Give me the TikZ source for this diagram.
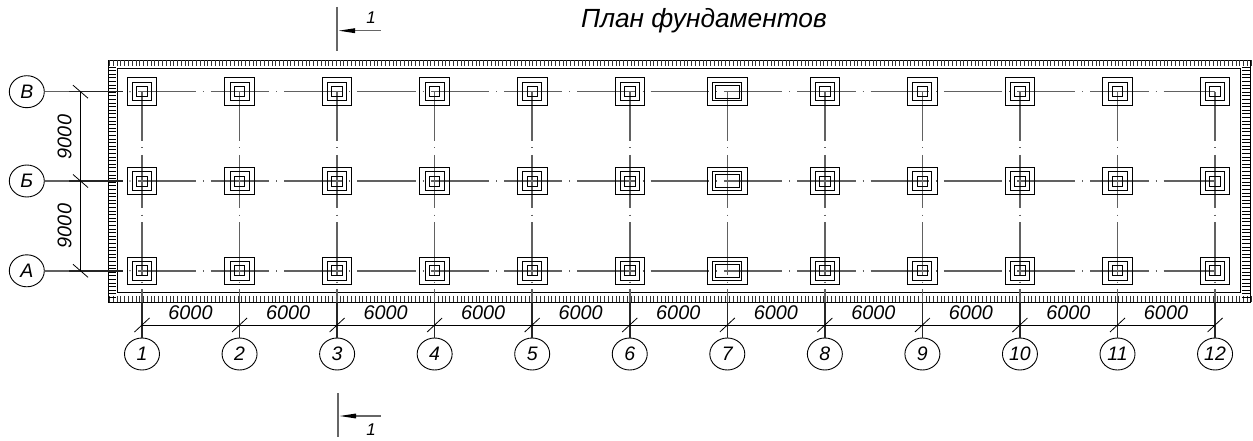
\documentclass[tikz,border=0pt]{standalone}
\usepackage{fontspec}
\setmainfont{Liberation Sans}
\usetikzlibrary{arrows.meta,shapes.geometric,calc}
\tikzset{
  lbl/.style={font=\itshape\fontsize{19.8}{20}\selectfont,inner sep=0pt},
  slbl/.style={font=\itshape\fontsize{17}{17}\selectfont,inner sep=0pt},
  bubble/.style={draw=black,line width=.9pt,ellipse,minimum width=35pt,minimum height=32pt,inner sep=0pt,font=\itshape\fontsize{19.5}{20}\selectfont},
  sq/.style={draw=black,line width=.9pt,rectangle,inner sep=0pt},
  sqa/.style={sq,minimum width=29.5pt,minimum height=27.5pt},
  sqb/.style={sq,minimum width=19pt,minimum height=18.5pt},
  sqc/.style={sq,minimum width=10.5pt,minimum height=10pt},
  wa/.style={sq,minimum width=39.5pt,minimum height=27.5pt},
  wb/.style={sq,minimum width=29pt,minimum height=18.5pt},
  wc/.style={sq,minimum width=24.5pt,minimum height=13pt},
  axish/.style={line width=1.6pt,black!62,dash pattern=on 58.3pt off 7pt on 1pt off 7pt},
  axisv/.style={line width=1.6pt,black!62,dash pattern=on 53pt off 6.5pt on 1pt off 6.5pt,dash phase=3.7pt},
  ext/.style={line width=1.6pt,black!62},
  extb/.style={line width=1.6pt,black!85},
  dimline/.style={line width=.8pt,black},
  slash/.style={line width=.8pt,black},
  sect/.style={line width=1.6pt,black!60},
  secarrow/.style={line width=1.6pt,black!60,{Triangle[length=17pt,width=4.5pt,color=black]}-},
  hatch/.style={line width=.9pt,black},
}
\begin{document}
\begin{tikzpicture}[x=1pt,y=-1pt]
\useasboundingbox[fill=white] (0,0) rectangle (1253,441);
% wall hatching
\draw[hatch] (108,60.5) rectangle (1250,302);
\draw[line width=1pt,black] (117,69) rectangle (1240.5,292);
\foreach \k in {0,...,302}{
  \pgfmathsetmacro{\tx}{109.5+3.78*\k}
  \draw[hatch,black!80] (\tx,60.5) -- (\tx,66.5);
  \draw[hatch,black!80] (\tx,302) -- (\tx,295.5);
}
\foreach \k in {0,...,64}{
  \pgfmathsetmacro{\ty}{67+3.6*\k}
  \draw[hatch] (108,\ty) -- (116,\ty);
  \draw[hatch] (1250,\ty) -- (1241.5,\ty);
}
% footings, rows and columns
\foreach \rn/\ry/\rt in {1/91.7/В,2/181/Б,3/270.8/А}{
  \node[bubble] (r\rn) at (26.8,\ry) {\rt};
  \coordinate (ra\rn) at (137.5,\ry);
  \coordinate (rb\rn) at (1215,\ry);
  \coordinate (rt\rn) at (80.5,\ry);
  \coordinate (rx\rn) at (69,\ry);
  \coordinate (re\rn) at (122.5,\ry);
  \coordinate (rd\rn) at (130,\ry);
  \draw[ext] (r\rn.east) -- (re\rn);
  \draw[extb] (rx\rn) -- (re\rn);
  \fill (rd\rn) circle (.6pt);
  \draw[axish] (ra\rn) -- (rb\rn);
  \draw[slash] ($(rt\rn)+(-7.5,-6.5)$) -- ($(rt\rn)+(7.5,6.5)$);
}
\foreach \c in {1,...,12}{
  \pgfmathsetmacro{\cx}{142+97.55*(\c-1)}
  \node[bubble] (c\c) at (\cx,354) {\c};
  \coordinate (cs\c) at (\cx,91.7);
  \coordinate (cd\c) at (\cx,325);
  \coordinate (ce\c) at (\cx,302);
  \draw[axisv] (cs\c) -- (c\c.north);
  \draw[extb] (ce\c) -- (c\c.north);
  \draw[slash] ($(cd\c)+(-7.5,7)$) -- ($(cd\c)+(7.5,-7)$);
  \foreach \rn/\ry in {1/91.7,2/181,3/270.8}{
    \ifnum\c=7
      \node[wa] (a\c\rn) at (\cx,\ry) {};
      \node[wb] (b\c\rn) at (\cx,\ry) {};
      \node[wc] (d\c\rn) at (\cx,\ry) {};
    \else
      \node[sqa] (a\c\rn) at (\cx,\ry) {};
      \node[sqb] (b\c\rn) at (\cx,\ry) {};
      \node[sqc] (d\c\rn) at (\cx,\ry) {};
    \fi
  }
}
% dimension lines
\draw[dimline] (rt1) -- (rt3);
\draw[dimline] (cd1) -- (cd12);
\node[lbl,rotate=90] (dv1) at (64.5,137) {9000};
\node[lbl,rotate=90] (dv2) at (64.5,226) {9000};
\foreach \c in {1,...,11}{
  \pgfmathsetmacro{\tx}{190.5+97.55*(\c-1)}
  \node[lbl] (dh\c) at (\tx,312.7) {6000};
}
% section marks
\coordinate (s1a) at (337,7);
\coordinate (s1b) at (337,51);
\coordinate (s1c) at (338,30.7);
\coordinate (s1d) at (381,30.7);
\draw[sect] (s1a) -- (s1b);
\draw[secarrow] (s1c) -- (s1d);
\node[slbl] (s1t) at (371,17.5) {1};
\coordinate (s2a) at (338,393);
\coordinate (s2b) at (338,437);
\coordinate (s2c) at (339,416);
\coordinate (s2d) at (381,416);
\draw[sect] (s2a) -- (s2b);
\draw[secarrow] (s2c) -- (s2d);
\node[slbl] (s2t) at (371,430) {1};
\node[lbl,font=\itshape\fontsize{26.3}{27}\selectfont] (title) at (704,21) {План фундаментов};
\end{tikzpicture}
\end{document}
